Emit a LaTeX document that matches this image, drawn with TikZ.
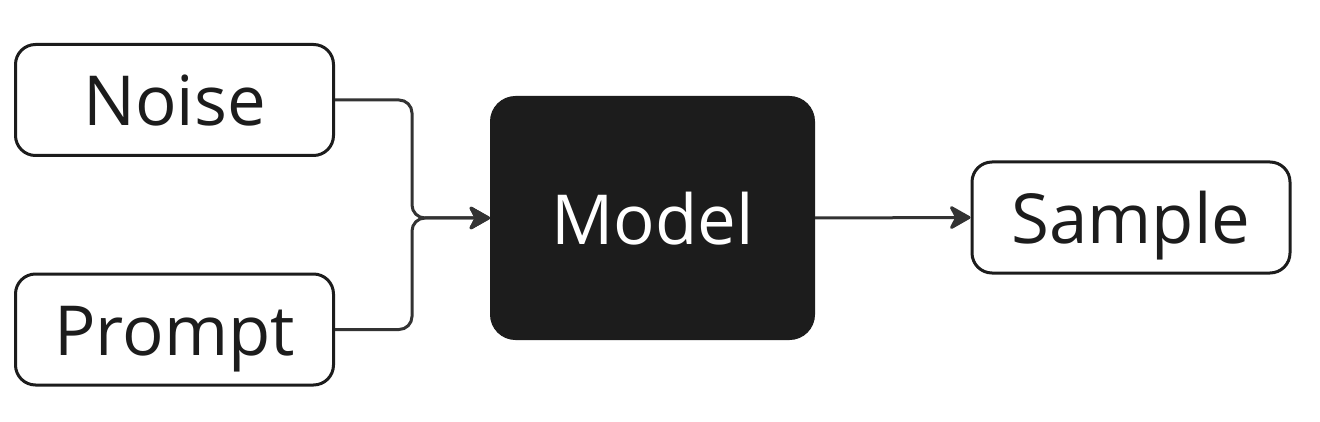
\documentclass[tikz,border=0pt]{standalone}
\usepackage{fontspec}
\setmainfont{Open Sans}
\usetikzlibrary{arrows.meta}
\definecolor{ink}{HTML}{1C1C1C}
\definecolor{wire}{HTML}{333333}
\begin{document}
\begin{tikzpicture}[x=1pt,y=-1pt,
  lbl/.style={font=\fontsize{69}{72}\selectfont, text height=52pt, text depth=0pt},
  box/.style={lbl, draw=ink, line width=3pt, rounded corners=20pt, fill=white,
    minimum width=318pt, minimum height=111pt, inner sep=0pt, text=ink},
  modelbox/.style={lbl, draw=ink, fill=ink, line width=1pt, rounded corners=25pt,
    minimum width=324pt, minimum height=243pt, inner sep=0pt, text=white},
  wirestyle/.style={draw=wire, line width=3pt, rounded corners=13pt},
  tip/.style={-{Stealth[length=24pt,width=27pt,inset=7pt,round]}}
]
\useasboundingbox (0,0) rectangle (1320,422);
\fill[white] (0,0) rectangle (1320,422);
\node[box] (noise) at (174.5,100) {Noise};
\node[box] (prompt) at (174.5,329.5) {Prompt};
\node[modelbox] (model) at (652.5,218) {Model};
\node[box] (sample) at (1131,217.5) {Sample};
\coordinate (jn) at (412,218);
\draw[wirestyle,tip] (noise.east) -| (jn) -- (model.west);
\draw[wirestyle,tip] (prompt.east) -| (jn) -- (model.west);
\draw[wirestyle,tip] (model.east) -- (sample.west);
\end{tikzpicture}
\end{document}
